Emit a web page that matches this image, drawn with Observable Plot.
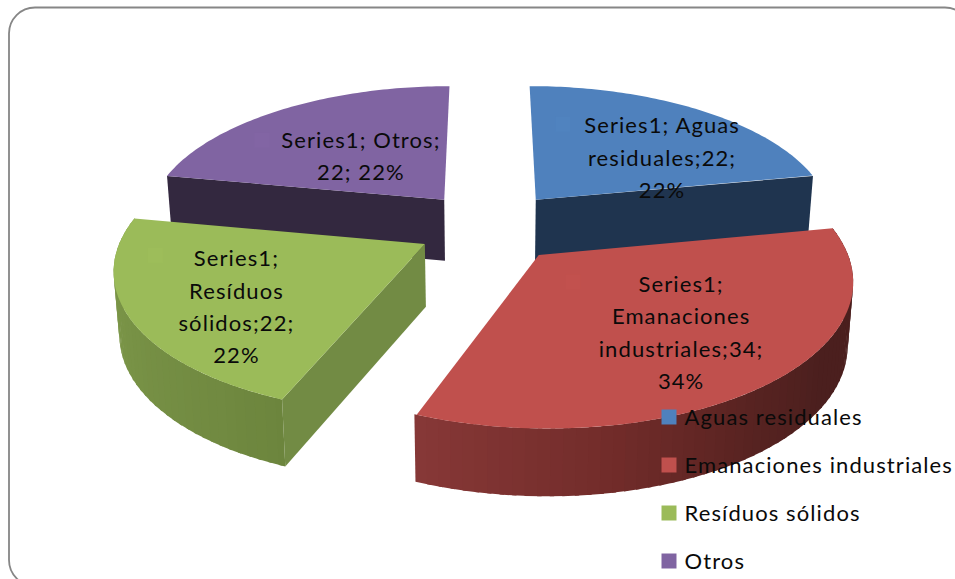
<!DOCTYPE html>
<html>
<head>
<meta charset="utf-8">
<style>html,body{margin:0;padding:0;background:#fff;overflow:hidden}svg{display:block}</style>
<script src="https://cdn.jsdelivr.net/npm/d3@7"></script>
<script src="https://cdn.jsdelivr.net/npm/@observablehq/plot@0.6"></script>
</head>
<body>
<div id="chart"></div>
<script>
// ---- data ----
const names = ["Aguas residuales", "Emanaciones industriales", "Resíduos sólidos", "Otros"];
const values = [22, 34, 22, 22];
const labelLines = [
  "Series1; Aguas\nresiduales;22;\n22%",
  "Series1;\nEmanaciones\nindustriales;34;\n34%",
  "Series1;\nResíduos\nsólidos;22;\n22%",
  "Series1; Otros;\n22; 22%"
];
const faceColors = ["#4f81bd", "#c0504d", "#9bbb59", "#8064a2"];

// ---- 3-D pie projection ----
const W = 955, H = 579;
const view = {cx: 487, cy: 226, A: 300, B: 138, k: 0.15, depth: 62, explode: 0.26};
const sideNudge = [0, 0, 7, 5];              // horizontal correction per slice
const labelShift = [[25, 12], [11, 2], [-17, 17], [18, 10]];
const keyShift = [[-74, -19], [-97, -46], [-98, -32], [-81, -3]];

const rad = d => d * Math.PI / 180;
const total = d3.sum(values);
let running = 0;
const slices = values.map((v, i) => {
  const a0 = running / total * 360;
  running += v;
  const a1 = running / total * 360;
  return {i, a0, a1, mid: (a0 + a1) / 2};
});

function project(sl, r, deg, bottom = false) {
  const X = view.explode * Math.sin(rad(sl.mid)) + r * Math.sin(rad(deg));
  const Y = view.explode * Math.cos(rad(sl.mid)) + r * Math.cos(rad(deg));
  const s = 1 / (1 + view.k * Y);
  const t = bottom ? 0.985 : 1;
  return [
    view.cx + sideNudge[sl.i] + view.A * X * s * t,
    view.cy - view.B * Y * s + (bottom ? view.depth * Math.pow(s, 0.45) : 0)
  ];
}

const polys = [];
let pid = 0;
function addPoly(pts, color) {
  const id = pid++;
  pts.forEach(p => polys.push({id, x: p[0], y: p[1], color}));
}
function addCutWall(sl, deg, color) {
  addPoly([project(sl, 0, 0), project(sl, 1, deg), project(sl, 1, deg, true), project(sl, 0, 0, true)], color);
}
// Each strip runs a little under the next one, so no seams show.
function addOuterWall(sl, colorAt) {
  const step = 2;
  for (let d = sl.a1; d > sl.a0 + 1e-6; d -= step) {
    const e = Math.max(d - step, sl.a0);
    const lap = Math.max(e - 0.7, sl.a0);
    addPoly([project(sl, 1, d), project(sl, 1, lap), project(sl, 1, lap, true), project(sl, 1, d, true)], colorAt((d + e) / 2));
  }
}
function addTop(sl) {
  const pts = [project(sl, 0, 0)];
  for (let d = sl.a0; d <= sl.a1 + 1e-6; d += 1) pts.push(project(sl, 1, Math.min(d, sl.a1)));
  addPoly(pts, faceColors[sl.i]);
}
const redWall = d3.scaleLinear().domain([201.6, 170, 145, 125, 79]).range(["#873837", "#722c2a", "#582321", "#4b1f1e", "#4b1f1e"]);
const greenWall = d3.scaleLinear().domain([280.8, 250, 215, 201.6]).range(["#809b4b", "#7a9447", "#718a41", "#6c853d"]);
const [blue, red, green, purple] = slices;

addCutWall(purple, purple.a0, "#33283f");
addCutWall(blue, blue.a1, "#1f344f");
addTop(purple);
addTop(blue);
addCutWall(green, green.a0, "#728b44");
addOuterWall(green, greenWall);
addTop(green);
addOuterWall(red, redWall);
addTop(red);

const anchors = slices.map(sl => project(sl, 0.6, sl.mid));
const labelData = slices.map((sl, i) => ({
  text: labelLines[i],
  x: anchors[i][0] + labelShift[i][0],
  y: anchors[i][1] + labelShift[i][1]
}));
const keyData = slices.map((sl, i) => ({
  x: anchors[i][0] + keyShift[i][0],
  y: anchors[i][1] + keyShift[i][1],
  color: d3.color(faceColors[i]).brighter(0.035).formatHex()
}));
const legendData = names.map((name, i) => ({name, color: faceColors[i], y: 416.5 + 48 * i}));

const chart = Plot.plot({
  width: W, height: H,
  marginTop: 0, marginRight: 0, marginBottom: 0, marginLeft: 0,
  x: {domain: [0, W], range: [0, W], axis: null},
  y: {domain: [0, H], range: [0, H], axis: null},
  color: {type: "identity"},
  style: {fontFamily: "Lato", background: "#fff", color: "#0a0a0a", letterSpacing: "1.1px"},
  marks: [
    Plot.rect([{}], {x1: () => 9, x2: () => 971, y1: () => 7.5, y2: () => 586, rx: 26, fill: "none", stroke: "#868686", strokeWidth: 1.8}),
    Plot.line(polys, {x: "x", y: "y", z: "id", fill: "color", stroke: "none", curve: "linear-closed"}),
    Plot.dot(keyData, {x: "x", y: "y", symbol: "square", r: 8.46, fill: "color"}),
    Plot.text(labelData, {x: "x", y: "y", text: "text", fontSize: 22, lineHeight: 1.47, lineAnchor: "middle", textAnchor: "middle", fill: "#0a0a0a"}),
    Plot.dot(legendData, {x: () => 668.5, y: "y", symbol: "square", r: 8.46, fill: "color"}),
    Plot.text(legendData, {x: () => 684, y: d => d.y + 1, text: "name", fontSize: 22, textAnchor: "start", lineAnchor: "middle", fill: "#0a0a0a"})
  ]
});
document.getElementById("chart").append(chart);
</script>
</body>
</html>
